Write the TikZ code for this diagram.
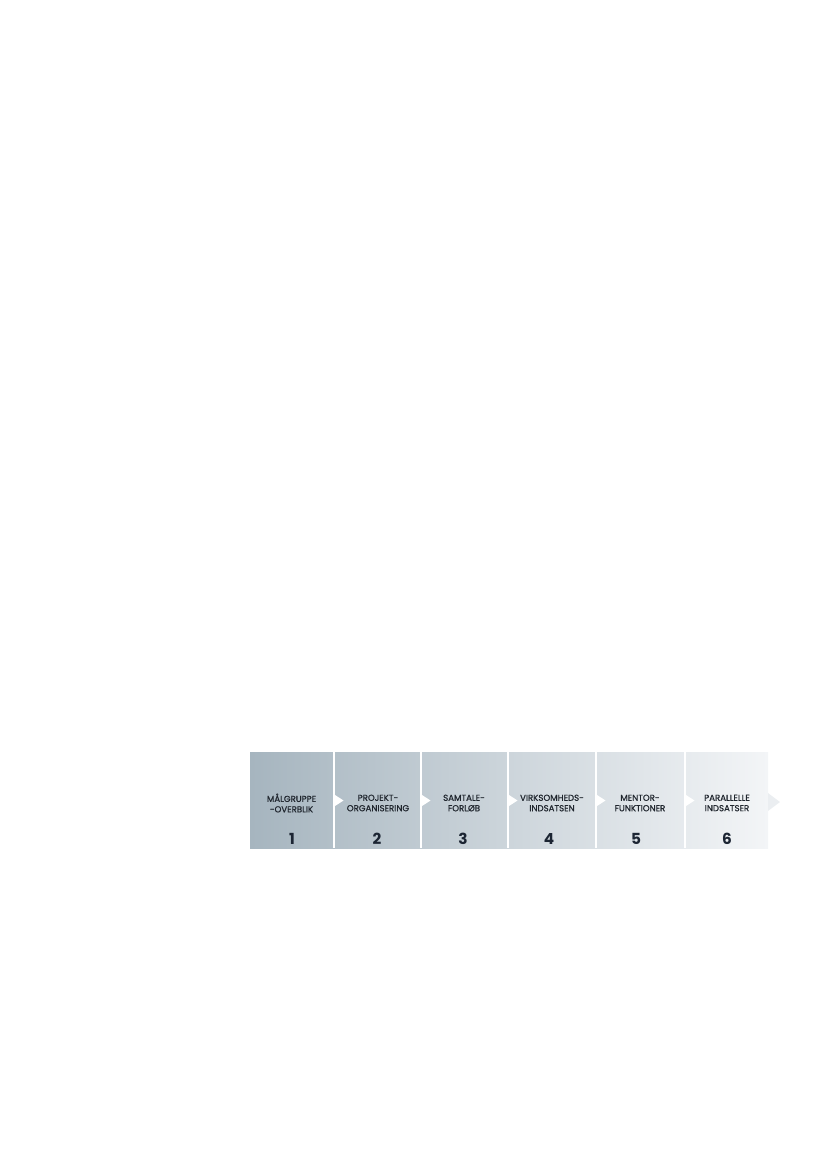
\documentclass[tikz,border=0pt]{standalone}
\usepackage{fontspec}
\setmainfont{Poppins}
\newfontfamily\lblfont[FakeBold=0.7]{Poppins}
\definecolor{bandL}{HTML}{A6B5BF}
\definecolor{bandR}{HTML}{F3F5F7}
\definecolor{txtc}{HTML}{1F252D}
\definecolor{numc}{HTML}{1C2533}
\definecolor{chevc}{HTML}{EBEEF1}
\tikzset{
  lbl/.style={font=\lblfont\fontsize{6.2}{7.5}\selectfont, text=txtc, align=center, inner sep=0pt},
  num/.style={font=\fontsize{11}{12}\selectfont\bfseries, text=numc, inner sep=0pt},
  sepline/.style={draw=white, line width=1.4pt},
  septri/.style={fill=white},
}
\begin{document}
\begin{tikzpicture}[x=0.7198pt,y=-0.7198pt]
\useasboundingbox (0,0) rectangle (827,1169);
% band
\shade[left color=bandL, right color=bandR] (250,752) rectangle (768,848);
% separators with arrow tips
\foreach \sx in {334,421,508,596,685}{
  \draw[sepline] (\sx,752) -- (\sx,848);
  \fill[septri] (\sx-0.5,794) -- (\sx+9.5,800.5) -- (\sx-0.5,807) -- cycle;
}
% final chevron
\fill[chevc] (768,793) -- (780,802) -- (768,811) -- cycle;
% labels
\node[lbl] (t1) at (291.5,803) {MÅLGRUPPE\\-OVERBLIK};
\node[lbl] (t2) at (378,803) {PROJEKT-\\ORGANISERING};
\node[lbl] (t3) at (464,803) {SAMTALE-\\FORLØB};
\node[lbl] (t4) at (552,803) {VIRKSOMHEDS-\\INDSATSEN};
\node[lbl] (t5) at (640,803) {MENTOR-\\FUNKTIONER};
\node[lbl] (t6) at (727,803) {PARALLELLE\\INDSATSER};
% numbers
\node[num] (n1) at (292,839) {1};
\node[num] (n2) at (377,839) {2};
\node[num] (n3) at (463,839) {3};
\node[num] (n4) at (549,839) {4};
\node[num] (n5) at (636,839) {5};
\node[num] (n6) at (727,839) {6};
\end{tikzpicture}
\end{document}
